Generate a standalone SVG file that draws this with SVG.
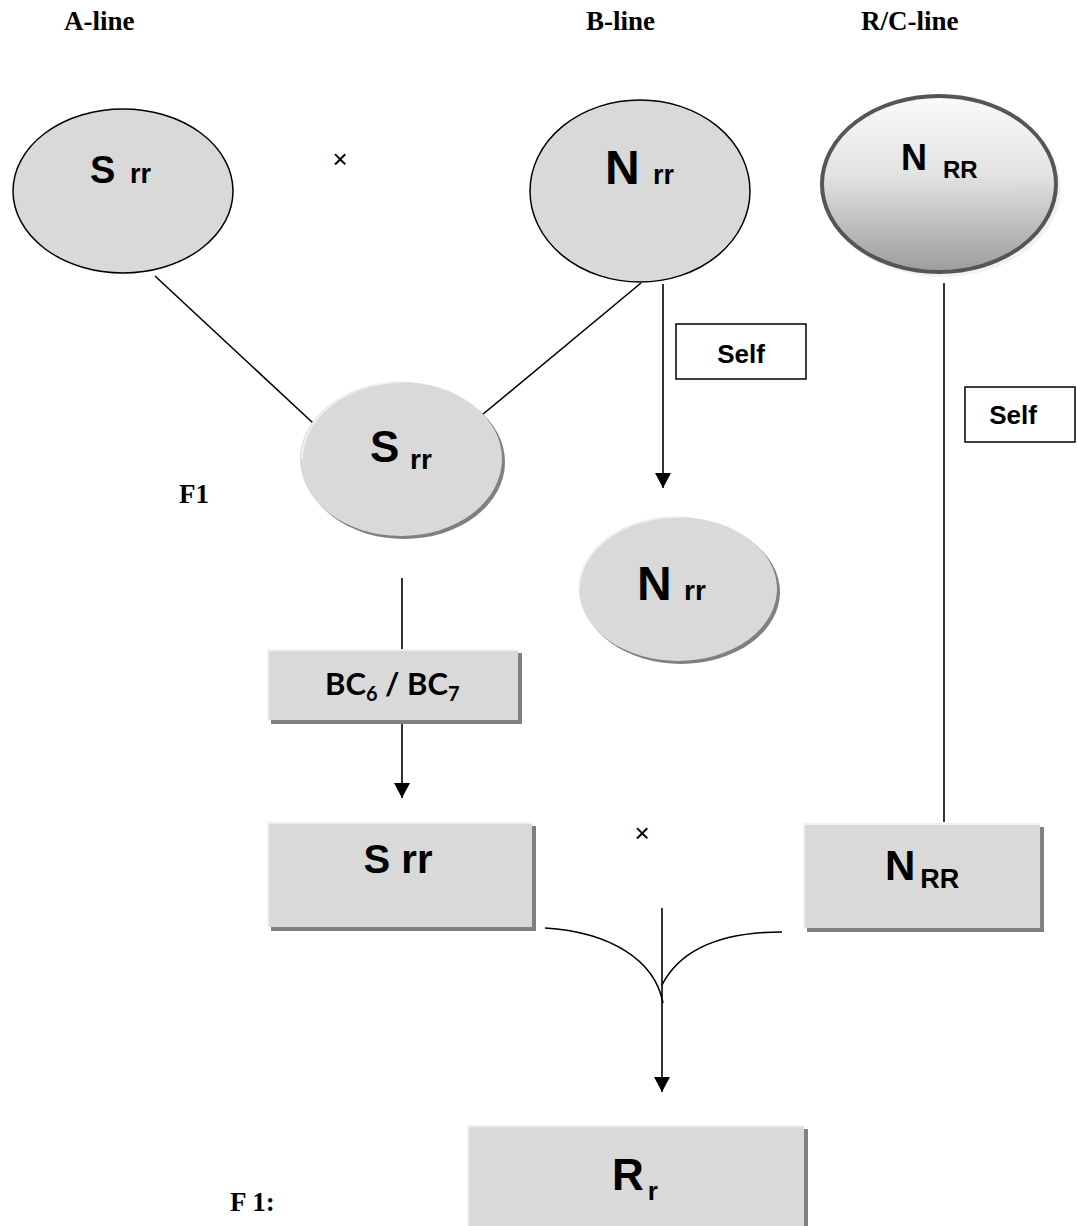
<svg xmlns="http://www.w3.org/2000/svg" width="1077" height="1226" viewBox="0 0 1077 1226">
<style>
.hdr{font-family:"Liberation Serif",serif;font-weight:bold;font-size:27px;fill:#000}
.lbl{font-family:"Liberation Sans",Arial,sans-serif;font-weight:bold;fill:#000}
.self{font-family:"Liberation Sans",Arial,sans-serif;font-weight:bold;font-size:26px;fill:#000}
.cal{font-family:Lato,"Open Sans",sans-serif;font-weight:bold;fill:#000}
.plain{fill:#d9d9d9;stroke:#000;stroke-width:1.5}
.soft{fill:#d9d9d9}
.shadow{fill:#808080}
.hl{fill:none;stroke:#f0f0f0;stroke-width:2}
.edge{stroke:#000;stroke-width:1.6;fill:none}
.tbox{fill:#fff;stroke:#000;stroke-width:1.5}
.times{font-family:"Liberation Sans",Arial,sans-serif;font-size:26px;fill:#000}
</style>
<defs>
<marker id="arr" markerUnits="userSpaceOnUse" markerWidth="18" markerHeight="18" refX="15" refY="8" orient="auto">
<path d="M0,0 L15,8 L0,16 z" fill="#000"/>
</marker>
<linearGradient id="g1" x1="0" y1="0" x2="0" y2="1">
<stop offset="0" stop-color="#fbfbfb"/>
<stop offset="0.45" stop-color="#e2e2e2"/>
<stop offset="1" stop-color="#9c9c9c"/>
</linearGradient>
</defs>

<g id="headers">
<text class="hdr" x="64" y="30">A-line</text>
<text class="hdr" x="586" y="30">B-line</text>
<text class="hdr" x="861" y="30">R/C-line</text>
<text class="hdr" x="179" y="503">F1</text>
<text class="hdr" x="230" y="1211">F 1:</text>
<text class="times" x="340" y="168" text-anchor="middle">×</text>
<text class="times" x="642" y="842" text-anchor="middle">×</text>
</g>

<g id="connectors">
<line class="edge" x1="155" y1="276" x2="313" y2="423"/>
<line class="edge" x1="641" y1="283" x2="482" y2="415"/>
<line class="edge" x1="663" y1="284" x2="663" y2="488" marker-end="url(#arr)"/>
<line class="edge" x1="944" y1="283" x2="944" y2="822"/>
<line class="edge" x1="402" y1="578" x2="402" y2="649"/>
<line class="edge" x1="402" y1="720" x2="402" y2="798" marker-end="url(#arr)"/>
<path class="edge" d="M545,928 C610,932 655,960 663,1003"/>
<path class="edge" d="M782,932 C720,932 680,950 662,985"/>
<line class="edge" x1="662" y1="908" x2="662" y2="1092" marker-end="url(#arr)"/>
</g>

<g id="node-a-srr">
<ellipse class="plain" cx="123" cy="191" rx="110" ry="82"/>
<text class="lbl" x="90" y="183" font-size="38">S</text>
<text class="lbl" x="130" y="183" font-size="27">rr</text>
</g>

<g id="node-b-nrr">
<ellipse class="plain" cx="640" cy="191" rx="110" ry="91"/>
<text class="lbl" x="605" y="184" font-size="48">N</text>
<text class="lbl" x="653" y="184" font-size="27">rr</text>
</g>

<g id="node-rc-nrr">
<ellipse cx="942" cy="188" rx="119" ry="89" fill="#e8e8e8" opacity="0.6"/>
<ellipse cx="939" cy="184" rx="117" ry="88" fill="url(#g1)" stroke="#555" stroke-width="4"/>
<text class="lbl" x="901" y="170" font-size="36">N</text>
<text class="lbl" x="943" y="178" font-size="24">RR</text>
</g>

<g id="self-b">
<rect class="tbox" x="676" y="324" width="130" height="55"/>
<text class="self" x="741" y="363" text-anchor="middle">Self</text>
</g>

<g id="self-rc">
<rect class="tbox" x="965" y="387" width="110" height="55"/>
<text class="self" x="1013" y="424" text-anchor="middle">Self</text>
</g>

<g id="node-f1-srr">
<ellipse class="shadow" cx="404" cy="462" rx="101" ry="77"/>
<ellipse class="soft" cx="401" cy="459" rx="101" ry="77"/>
<path class="hl" d="M302,459 A101,77 0 0 1 401,382"/>
<text class="lbl" x="370" y="462" font-size="44">S</text>
<text class="lbl" x="410" y="469" font-size="28">rr</text>
</g>

<g id="node-f1-nrr">
<ellipse class="shadow" cx="681" cy="592" rx="99" ry="72"/>
<ellipse class="soft" cx="678" cy="589" rx="99" ry="72"/>
<path class="hl" d="M579,589 A99,72 0 0 1 678,517"/>
<text class="lbl" x="637" y="600" font-size="48">N</text>
<text class="lbl" x="684" y="600" font-size="28">rr</text>
</g>

<g id="node-bc">
<rect class="shadow" x="271" y="653" width="251" height="71"/>
<rect class="soft" x="267" y="649" width="251" height="71"/>
<path class="hl" d="M268,720 V650 H518"/>
<text class="cal" x="325" y="695" font-size="31">BC<tspan font-size="20" dy="6">6</tspan><tspan dy="-6"> / BC</tspan><tspan font-size="20" dy="6">7</tspan></text>
</g>

<g id="node-srr-box">
<rect class="shadow" x="271" y="826" width="265" height="105"/>
<rect class="soft" x="267" y="822" width="265" height="105"/>
<path class="hl" d="M268,927 V823 H532"/>
<text class="lbl" x="398" y="873" font-size="40" text-anchor="middle">S rr</text>
</g>

<g id="node-nrr-box">
<rect class="shadow" x="807" y="827" width="237" height="105"/>
<rect class="soft" x="803" y="823" width="237" height="105"/>
<path class="hl" d="M804,928 V824 H1040"/>
<text class="lbl" x="885" y="880" font-size="42">N<tspan font-size="27" dx="5" dy="8">RR</tspan></text>
</g>

<g id="node-rr">
<rect class="shadow" x="471" y="1129" width="337" height="110"/>
<rect class="soft" x="467" y="1125" width="337" height="110"/>
<path class="hl" d="M468,1235 V1126 H804"/>
<text class="lbl" x="612" y="1190" font-size="44">R<tspan font-size="26" dx="4" dy="10">r</tspan></text>
</g>
</svg>
